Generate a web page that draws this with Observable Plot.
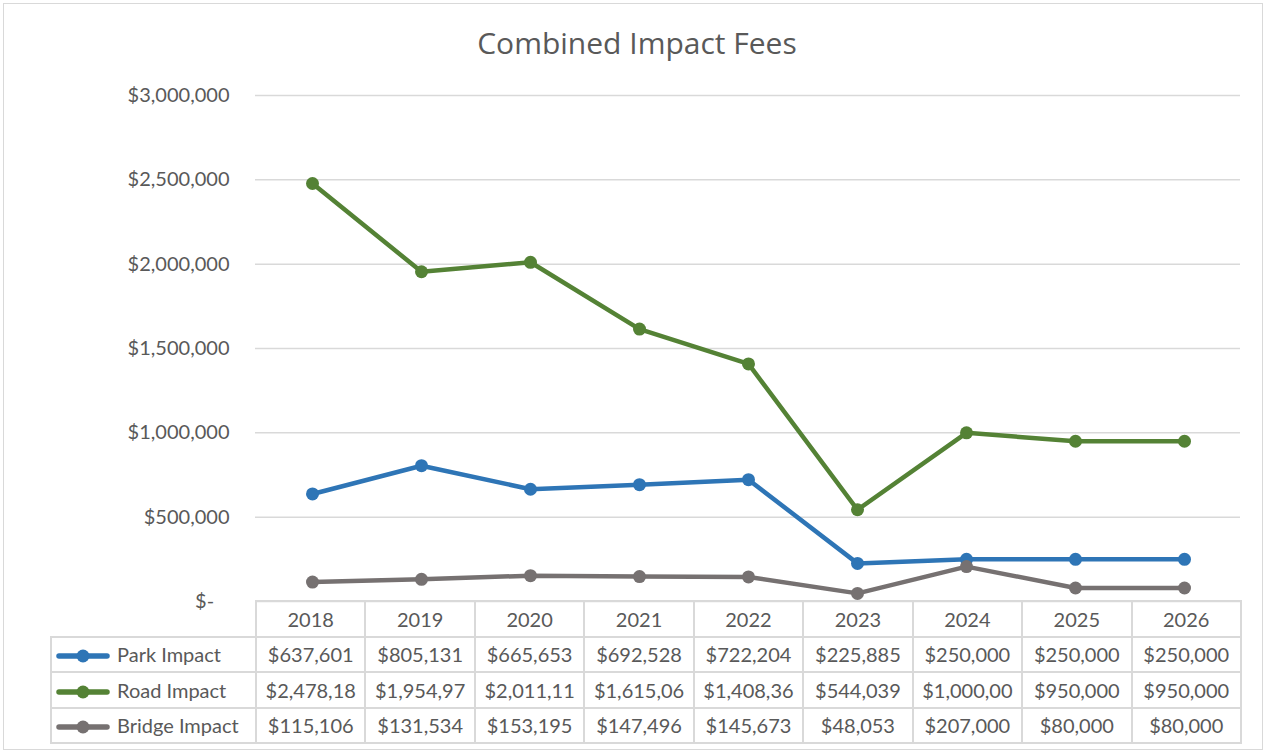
<!DOCTYPE html>
<html>
<head>
<meta charset="utf-8">
<script src="https://cdn.jsdelivr.net/npm/d3@7"></script>
<script src="https://cdn.jsdelivr.net/npm/@observablehq/plot@0.6"></script>
<style>
  html, body { margin: 0; padding: 0; background: #fff; }
  #wrap { position: relative; width: 1267px; height: 754px; overflow: hidden; font-family: Lato, "Open Sans", sans-serif; }
  #frame { position: absolute; left: 3px; top: 3px; width: 1258px; height: 745px; border: 1px solid #d9d9d9; }
  #title { position: absolute; left: 0; width: 1274px; top: 28px; line-height: 30px; text-align: center; font-family: "Open Sans", sans-serif; font-size: 30px; color: #595959; }
  #chart { position: absolute; left: 0; top: 0; }
  #tbl { position: absolute; left: 50px; top: 600px; border-collapse: collapse; table-layout: fixed; font-size: 20px; color: #595959; }
  #tbl td { border: 2px solid #d9d9d9; height: 33.5px; padding: 0; text-align: center; white-space: nowrap; overflow: hidden; }
  #tbl td.blank { border: none; }
  #tbl td.lab { text-align: left; padding-left: 4px; }
  #tbl td.lab svg { vertical-align: middle; margin-right: 7px; position: relative; top: -1px; }
</style>
</head>
<body>
<div id="wrap">
  <div id="frame"></div>
  <div id="chart"></div>
  <div id="title">Combined Impact Fees</div>
  <table id="tbl"></table>
</div>
<script>
const years = ["2018", "2019", "2020", "2021", "2022", "2023", "2024", "2025", "2026"];
const seriesNames = ["Park Impact", "Road Impact", "Bridge Impact"];
const parkImpact = [637601, 805131, 665653, 692528, 722204, 225885, 250000, 250000, 250000];
const roadImpact = [2478180, 1954970, 2011110, 1615060, 1408360, 544039, 1000000, 950000, 950000];
const bridgeImpact = [115106, 131534, 153195, 147496, 145673, 48053, 207000, 80000, 80000];
const seriesColors = ["#2e75b6", "#548235", "#767171"];
const yTicks = [0, 500000, 1000000, 1500000, 2000000, 2500000, 3000000];

const seriesValues = [parkImpact, roadImpact, bridgeImpact];
const data = [];
seriesNames.forEach((s, i) => years.forEach((y, j) => data.push({series: s, year: y, value: seriesValues[i][j]})));

const money = d3.format("$,.0f");
const tickFmt = v => v === 0 ? "$-\u00a0\u00a0\u00a0" : money(v);

const chart = Plot.plot({
  width: 1267,
  height: 612,
  marginLeft: 255,
  marginRight: 27,
  marginTop: 95,
  marginBottom: 11,
  style: {fontFamily: "Lato, 'Open Sans', sans-serif", fontSize: "20px", color: "#595959", background: "transparent"},
  x: {type: "point", domain: years, padding: 0.5, align: 0.5, axis: null},
  y: {domain: [0, 3000000], axis: null},
  color: {domain: seriesNames, range: seriesColors},
  marks: [
    Plot.gridY(yTicks, {stroke: "#d9d9d9", strokeOpacity: 1, strokeWidth: 1.5}),
    Plot.axisY(yTicks, {tickSize: 0, tickPadding: 26, tickFormat: tickFmt, fontSize: 20, fill: "#595959", label: null}),
    Plot.line(data, {x: "year", y: "value", z: "series", stroke: "series", strokeWidth: 4.5}),
    Plot.dot(data, {x: "year", y: "value", fill: "series", r: 6.5})
  ]
});
document.getElementById("chart").appendChild(chart);

// data table below the chart
const tbl = document.getElementById("tbl");
const colW = (1240 - 255) / years.length;
const cg = document.createElement("colgroup");
const c0 = document.createElement("col"); c0.style.width = "205px"; cg.appendChild(c0);
years.forEach(() => { const c = document.createElement("col"); c.style.width = colW + "px"; cg.appendChild(c); });
tbl.appendChild(cg);
tbl.style.width = (205 + colW * years.length) + "px";

const hr = document.createElement("tr");
const blank = document.createElement("td"); blank.className = "blank"; hr.appendChild(blank);
years.forEach(y => { const td = document.createElement("td"); td.textContent = y; hr.appendChild(td); });
tbl.appendChild(hr);

seriesNames.forEach((s, i) => {
  const tr = document.createElement("tr");
  const lab = document.createElement("td");
  lab.className = "lab";
  lab.innerHTML = `<svg width="54" height="14"><line x1="3" y1="7" x2="51" y2="7" stroke="${seriesColors[i]}" stroke-width="5.5" stroke-linecap="round"/><circle cx="27" cy="7" r="6.5" fill="${seriesColors[i]}"/></svg>` + s;
  tr.appendChild(lab);
  seriesValues[i].forEach(v => {
    const td = document.createElement("td");
    td.textContent = money(v).slice(0, 9);
    tr.appendChild(td);
  });
  tbl.appendChild(tr);
});
</script>
</body>
</html>
